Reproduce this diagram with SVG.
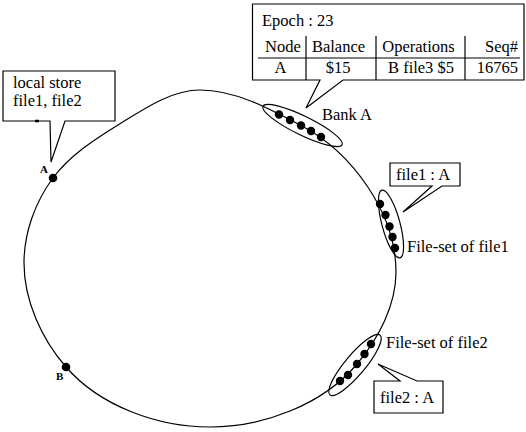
<svg xmlns="http://www.w3.org/2000/svg" width="526" height="432" viewBox="0 0 526 432">
<style>
text{font-family:"Liberation Serif","Times New Roman",serif;font-size:16.5px;fill:#000}
.lbl{font-size:11px;font-weight:bold}
.ln{fill:none;stroke:#000;stroke-width:1.2}
.box{fill:#fff;stroke:#000;stroke-width:1.2}
.dot{fill:#000}
</style>
<rect width="526" height="432" fill="#fff"/>
<g id="connectors">
<path class="ln" d="M200,90 C235.6,90 270.6,109.2 302,126 C353.1,153.3 396,214.1 396,272 C396,305.3 378.4,338.5 357,364 C322.8,404.8 263.3,427 210,427 C158,427 100.1,406.3 66,367 C41.5,338.7 24,300.4 24,263 C24,233 35.1,202.1 53,178 C69.7,155.5 94.2,139.7 118,125 C142.8,109.7 170.8,90 200,90 Z"/>
</g>
<g id="nodeA">
<circle class="dot" cx="53" cy="178" r="4.3"/>
<text class="lbl" x="40" y="173">A</text>
</g>
<g id="nodeB">
<circle class="dot" cx="66" cy="367" r="4.3"/>
<text class="lbl" x="56" y="380">B</text>
</g>
<g id="bankA">
<ellipse class="ln" cx="302.5" cy="125.5" rx="44" ry="9.5" transform="rotate(26 302.5 125.5)"/>
<circle class="dot" cx="279" cy="114.5" r="4.2"/>
<circle class="dot" cx="290" cy="120" r="4.2"/>
<circle class="dot" cx="301" cy="125.5" r="4.2"/>
<circle class="dot" cx="311" cy="131" r="4.2"/>
<circle class="dot" cx="321" cy="137" r="4.2"/>
<text x="322" y="120">Bank A</text>
</g>
<g id="fileset1">
<ellipse class="ln" cx="391" cy="224" rx="35" ry="9" transform="rotate(75 391 224)"/>
<circle class="dot" cx="380" cy="204" r="4.2"/>
<circle class="dot" cx="385.5" cy="215" r="4.2"/>
<circle class="dot" cx="389.5" cy="226.5" r="4.2"/>
<circle class="dot" cx="392.5" cy="237" r="4.2"/>
<circle class="dot" cx="395" cy="248" r="4.2"/>
<text x="407" y="252">File-set of file1</text>
</g>
<g id="fileset2">
<ellipse class="ln" cx="355" cy="365" rx="39" ry="10" transform="rotate(-50 355 365)"/>
<circle class="dot" cx="340" cy="381" r="4.2"/>
<circle class="dot" cx="348" cy="375" r="4.2"/>
<circle class="dot" cx="357" cy="364" r="4.2"/>
<circle class="dot" cx="364.5" cy="354" r="4.2"/>
<circle class="dot" cx="371" cy="344" r="4.2"/>
<text x="386" y="348">File-set of file2</text>
</g>
<g id="callout-local">
<path class="box" d="M3,71 H115 V121 H65 L51,162 L50,121 H3 Z"/>
<line x1="35" y1="121" x2="39" y2="121" stroke="#000" stroke-width="2.5"/>
<text x="13" y="88">local store</text>
<text x="13" y="106">file1, file2</text>
</g>
<g id="callout-bank">
<path class="box" d="M252.5,4 H524 V80 H343 L306,108 L320,80 H252.5 Z"/>
<line class="ln" x1="258" y1="58" x2="520" y2="58"/>
<line class="ln" x1="306" y1="36" x2="306" y2="80"/>
<line class="ln" x1="376" y1="36" x2="376" y2="80"/>
<line class="ln" x1="465" y1="36" x2="465" y2="80"/>
<text x="262" y="26">Epoch : 23</text>
<text x="265" y="52">Node</text>
<text x="338.5" y="52" text-anchor="middle">Balance</text>
<text x="418.5" y="52" text-anchor="middle">Operations</text>
<text x="518" y="52" text-anchor="end">Seq#</text>
<text x="280.5" y="73" text-anchor="middle">A</text>
<text x="338" y="73" text-anchor="middle">$15</text>
<text x="421" y="73" text-anchor="middle">B file3 $5</text>
<text x="518" y="73" text-anchor="end">16765</text>
</g>
<g id="callout-file1">
<path class="box" d="M390,163 H460 V186 H442 L403,212 L432,186 H390 Z"/>
<text x="396" y="180">file1 : A</text>
</g>
<g id="callout-file2">
<path class="box" d="M374,381 H400 L378,364 L417,381 H443 V413 H374 Z"/>
<text x="380" y="403">file2 : A</text>
</g>
</svg>
